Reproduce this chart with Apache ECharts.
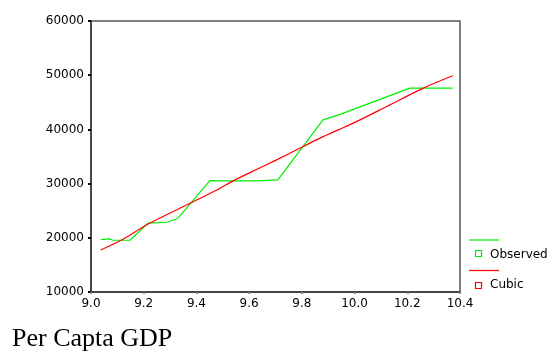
<!DOCTYPE html>
<html>
<head>
<meta charset="utf-8">
<script src="https://cdn.jsdelivr.net/npm/echarts@6/dist/echarts.min.js"></script>
<style>
html,body{margin:0;padding:0;background:#fff;}
#c{width:553px;height:353px;}
</style>
</head>
<body>
<div id="c"></div>
<script>
// Observed series (log per capita GDP, value)
var observedX = [9.037, 9.072, 9.082, 9.148, 9.216, 9.288, 9.330, 9.451, 9.489, 9.634, 9.709, 9.880, 9.945, 10.058, 10.210, 10.372];
var observedY = [19680, 19790, 19550, 19550, 22690, 22870, 23610, 30560, 30500, 30500, 30690, 41770, 42780, 44850, 47620, 47620];
// Cubic fit series
var cubicX = [9.037, 9.123, 9.217, 9.376, 9.483, 9.534, 9.603, 9.704, 9.805, 9.869, 9.938, 9.995, 10.122, 10.261, 10.372];
var cubicY = [17760, 19790, 22560, 26380, 28970, 30370, 32030, 34380, 36840, 38390, 39920, 41160, 44230, 47620, 49890];
var xTicks = [9.0, 9.2, 9.4, 9.6, 9.8, 10.0, 10.2, 10.4];
var yTicks = [10000, 20000, 30000, 40000, 50000, 60000];
var seriesNames = ['Observed', 'Cubic'];
var seriesColors = ['#00ee00', '#ff0000'];
var footTitle = 'Per Capta GDP';

function pairs(xs, ys){ return xs.map(function(x,i){ return [x, ys[i]]; }); }

var chart = echarts.init(document.getElementById('c'), null, {renderer:'canvas'});
var labelFont = {color:'#000', fontFamily:'DejaVu Sans', fontSize:12};
chart.setOption({
  animation:false,
  backgroundColor:'#fff',
  grid:{left:91, top:21, right:93, bottom:61, show:true, borderColor:'#555', borderWidth:1.5, backgroundColor:'#fff'},
  xAxis:{
    type:'value', min:xTicks[0], max:xTicks[xTicks.length-1], interval:0.2,
    axisLine:{show:true, lineStyle:{color:'#333', width:1.5}},
    axisTick:{show:true, length:2, lineStyle:{color:'#888', width:2}},
    splitLine:{show:false},
    axisLabel:Object.assign({margin:6, formatter:function(v){return v.toFixed(1);}}, labelFont)
  },
  yAxis:{
    type:'value', min:yTicks[0], max:yTicks[yTicks.length-1], interval:10000,
    axisLine:{show:true, lineStyle:{color:'#333', width:1.5}},
    axisTick:{show:true, length:3, lineStyle:{color:'#000', width:2}},
    splitLine:{show:false},
    axisLabel:Object.assign({margin:7, formatter:function(v){return String(v);}}, labelFont)
  },
  series:[
    {name:seriesNames[0], type:'line', data:pairs(observedX, observedY), showSymbol:false, lineStyle:{color:seriesColors[0], width:1.2}, z:2},
    {name:seriesNames[1], type:'line', data:pairs(cubicX, cubicY), showSymbol:false, smooth:0.3, lineStyle:{color:seriesColors[1], width:1.2}, z:3}
  ],
  graphic:[
    {type:'line', shape:{x1:469,y1:240,x2:499,y2:240}, style:{stroke:seriesColors[0], lineWidth:1.2}},
    {type:'rect', shape:{x:475.5,y:250.5,width:6,height:6}, style:{stroke:seriesColors[0], fill:'none', lineWidth:1.2}},
    {type:'text', left:490, top:249, style:{text:seriesNames[0], fill:'#000', font:'12px "DejaVu Sans"'}},
    {type:'line', shape:{x1:469,y1:270.5,x2:499,y2:270.5}, style:{stroke:seriesColors[1], lineWidth:1.2}},
    {type:'rect', shape:{x:475.5,y:282.5,width:6,height:6}, style:{stroke:seriesColors[1], fill:'none', lineWidth:1.2}},
    {type:'text', left:490, top:279, style:{text:seriesNames[1], fill:'#000', font:'12px "DejaVu Sans"'}},
    {type:'text', left:12, top:326, style:{text:footTitle, fill:'#000', font:'26px "Liberation Serif"'}}
  ]
});
</script>
</body>
</html>
